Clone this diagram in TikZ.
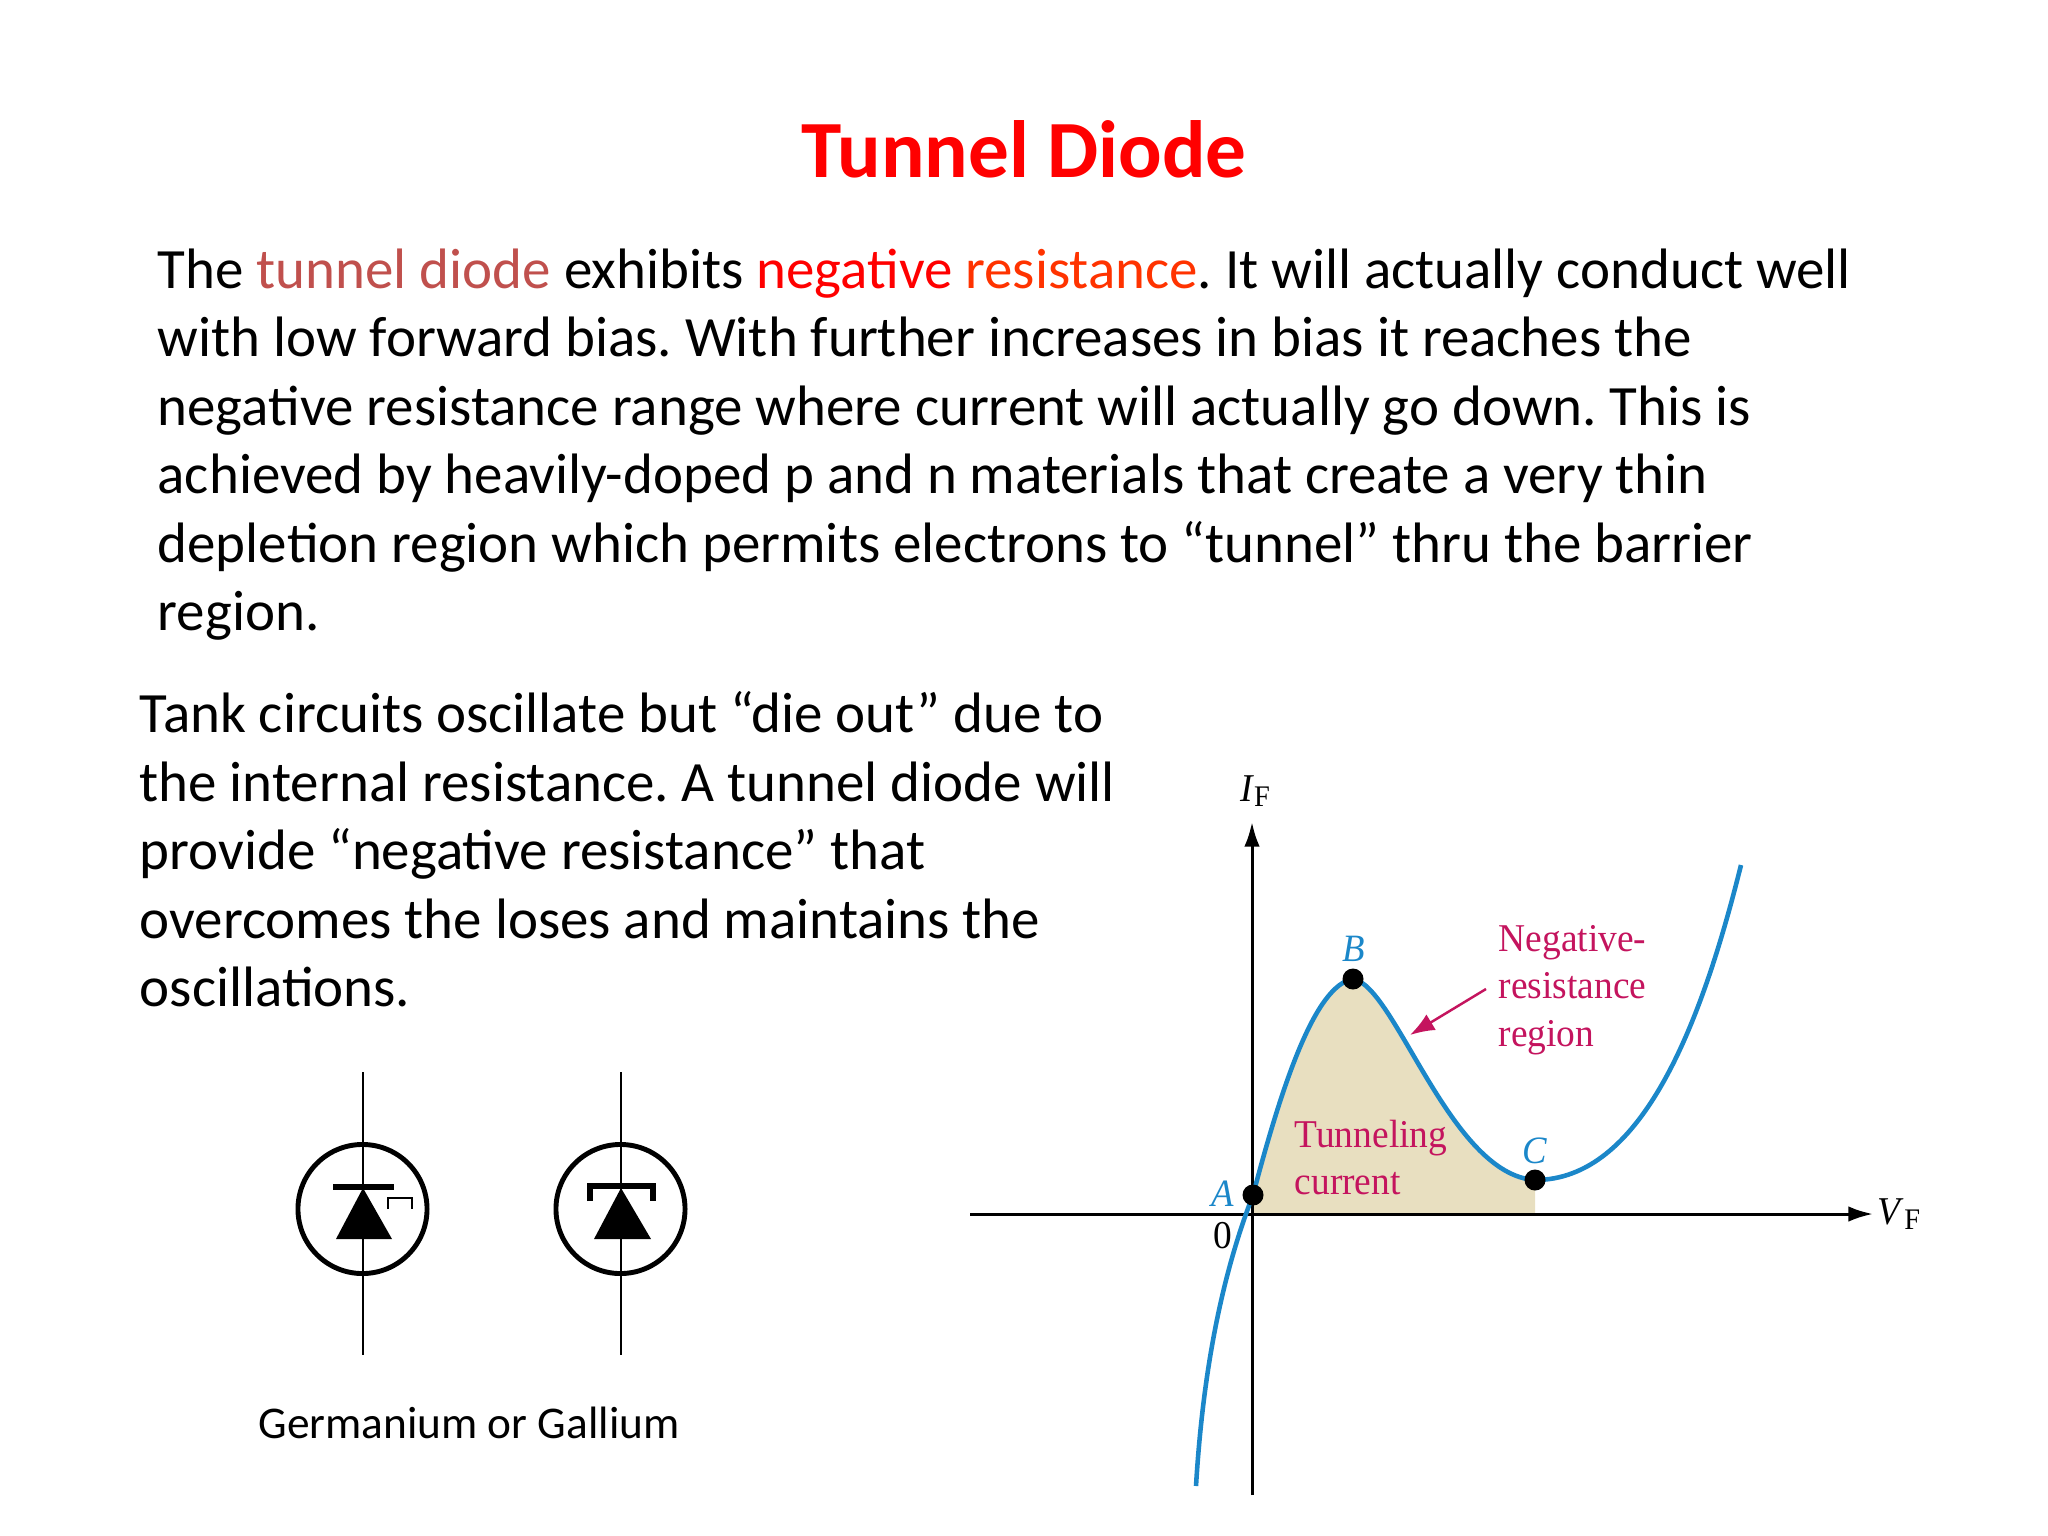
\documentclass[tikz,border=0pt]{standalone}
\usepackage{fontspec}
\setmainfont{Carlito}
\newfontfamily\serifgraph[FakeStretch=0.95]{Liberation Serif}
\usepackage{xcolor}
\usetikzlibrary{arrows.meta, calc}
\definecolor{TitleRed}{HTML}{FF0000}
\definecolor{TermBrown}{HTML}{C0504D}
\definecolor{TermRed}{HTML}{FF0000}
\definecolor{TermOrange}{HTML}{FF3300}
\definecolor{CurveBlue}{HTML}{1B87C9}
\definecolor{GraphPink}{HTML}{C4145E}
\definecolor{AreaTan}{HTML}{E8DFC0}
\pgfdeclarelayer{background}
\pgfsetlayers{background,main}

\begin{document}
\frenchspacing
\begin{tikzpicture}[x=0.01cm, y=-0.01cm]

    \useasboundingbox (0, 0) rectangle (2048, 1536);

    % Slide text
    \tikzset{titleT/.style={inner sep = 0pt, font = \fontsize{23.1}{28}\selectfont\bfseries, text = TitleRed}}
    \tikzset{bodyT/.style={anchor = north west, inner sep = 0pt, align = left, font = \fontsize{16.2}{19.46}\selectfont}}
    \tikzset{capT/.style={inner sep = 0pt, font = \fontsize{12.9}{15}\selectfont}}

    % Graph labels
    \tikzset{blueL/.style={inner sep = 0pt, text = CurveBlue, font = \serifgraph\fontsize{11}{13}\selectfont\itshape}}
    \tikzset{pinkL/.style={anchor = north west, inner sep = 0pt, align = left, text = GraphPink, font = \serifgraph\fontsize{11.2}{13.4}\selectfont}}
    \tikzset{axisL/.style={inner sep = 0pt, font = \serifgraph\fontsize{11.2}{13}\selectfont}}
    \tikzset{dotN/.style={circle, fill = black, inner sep = 0pt, minimum size = 0.21cm}}

    % Graph lines
    \tikzset{axisP/.style={draw=black, line width = 0.85pt, -{Latex[length=7pt, width=4.4pt]}}}
    \tikzset{curveP/.style={draw=CurveBlue, line width = 1.3pt}}
    \tikzset{leadP/.style={draw=GraphPink, line width = 0.7pt, -{Latex[length=7pt, width=5.2pt]}}}

    % Diode symbols
    \tikzset{ringN/.style={draw, circle, line width = 1.4pt, inner sep = 0pt, minimum size = 1.29cm}}
    \tikzset{legP/.style={draw=black, line width = 0.8pt}}
    \tikzset{barP/.style={draw=black, line width = 1.5pt}}
    \tikzset{triP/.style={fill=black}}

    % Text nodes
    \node (title) [titleT] at (1024, 149) {Tunnel Diode};
    \node (para1) [bodyT] at (157, 248) {The \textcolor{TermBrown}{tunnel diode} exhibits \textcolor{TermRed}{negative} \textcolor{TermOrange}{resistance}. It will actually conduct well\\
        with low forward bias. With further increases in bias it reaches the\\
        negative resistance range where current will actually go down. This is\\
        achieved by heavily-doped p and n materials that create a very thin\\
        depletion region which permits electrons to “tunnel” thru the barrier\\
        region.};
    \node (para2) [bodyT] at (139, 691) {Tank circuits oscillate but “die out” due to\\
        the internal resistance. A tunnel diode will\\
        provide “negative resistance” that\\
        overcomes the loses and maintains the\\
        oscillations.};
    \node (caption) [capT] at (469, 1423) {Germanium or Gallium};

    % Left diode
    \coordinate (lTop) at (363, 1072);
    \coordinate (lBot) at (363, 1355);
    \node (lRing) [ringN] at (362.5, 1209) {};
    \path[legP] (lTop) -- (lBot);
    \path[barP] (333, 1187) -- (394, 1187);
    \path[triP] (363, 1188) -- (392, 1239) -- (336, 1239) -- cycle;
    \path[draw=black, line width = 0.65pt] (388, 1209) -- (388, 1198) -- (412, 1198) -- (412, 1209);

    % Right diode
    \coordinate (rTop) at (621, 1072);
    \coordinate (rBot) at (621, 1355);
    \node (rRing) [ringN] at (620.5, 1209) {};
    \path[legP] (rTop) -- (rBot);
    \path[barP] (590, 1201) -- (590, 1186) -- (653, 1186) -- (653, 1201);
    \path[triP] (621, 1188) -- (651, 1239) -- (594, 1239) -- cycle;

    % Graph points
    \coordinate (xLeft) at (970, 1214);
    \coordinate (xRight) at (1873, 1214);
    \coordinate (yBot) at (1252, 1495);
    \coordinate (yTop) at (1252, 822);
    \coordinate (start) at (1196, 1486);
    \coordinate (stop) at (1741, 865);
    \node (A) [dotN] at (1253, 1195) {};
    \node (B) [dotN] at (1353, 979) {};
    \node (C) [dotN] at (1535, 1180) {};

    % Graph labels
    \node (labA) [blueL] at (1223, 1194) {A};
    \node (labB) [blueL] at (1354, 949) {B};
    \node (labC) [blueL] at (1535, 1151) {C};
    \node (zero) [axisL] at (1223, 1236) {0};
    \node (labI) [axisL] at (1255, 791) {\textit{I}\raisebox{-0.3ex}{\fontsize{8.5}{9}\selectfont F}};
    \node (labV) [axisL] at (1899, 1214) {\textit{V}\raisebox{-0.3ex}{\fontsize{8.5}{9}\selectfont F}};
    \node (negres) [pinkL] at (1498, 925) {Negative-\\resistance\\region};
    \node (tunnel) [pinkL] at (1294, 1119) {Tunneling\\current};
    \coordinate (leadS) at (1486, 989);
    \coordinate (leadE) at (1410, 1035);

    % Background image
    \begin{pgfonlayer}{background}

    	% Area under the curve
    	\fill[AreaTan] (1253, 1214) -- (A.center) .. controls (1282, 1085) and (1315, 985) .. (B.center)
    		.. controls (1395, 985) and (1450, 1175) .. (C.center) -- (1535, 1214) -- cycle;

    	% Axes and curve
    	\path[axisP] (xLeft) -- (xRight);
    	\path[axisP] (yBot) -- (yTop);
    	\path[curveP] (start) .. controls (1203, 1370) and (1222, 1275) .. (A.center)
    		.. controls (1282, 1085) and (1315, 985) .. (B.center)
    		.. controls (1395, 985) and (1450, 1175) .. (C.center)
    		.. controls (1640, 1180) and (1700, 1030) .. (stop);
    	\path[leadP] (leadS) -- (leadE);

    \end{pgfonlayer}

\end{tikzpicture}
\end{document}
